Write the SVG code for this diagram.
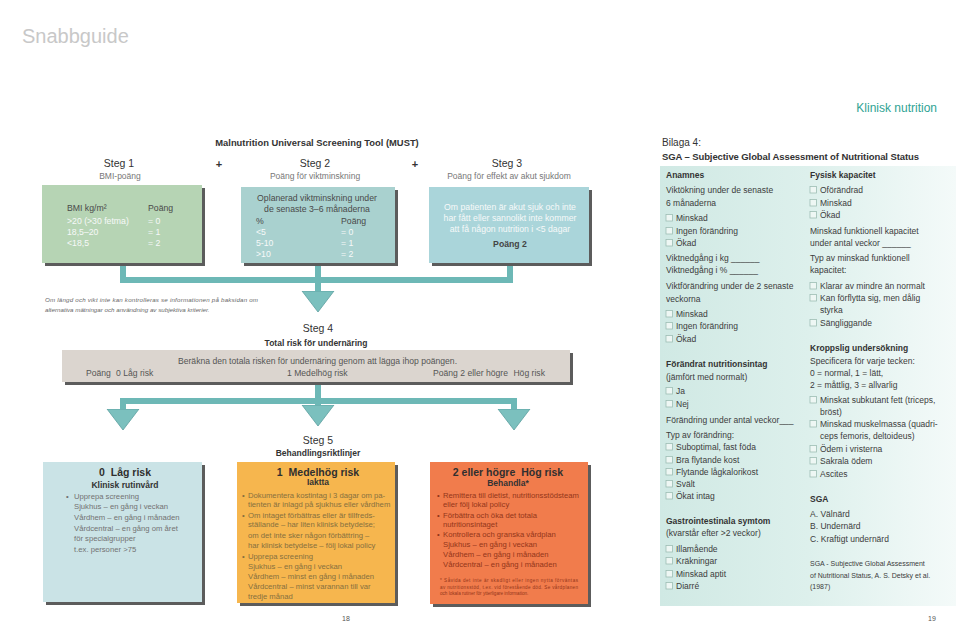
<svg xmlns="http://www.w3.org/2000/svg" width="960" height="623" viewBox="0 0 960 623">
<defs>
<linearGradient id="panel" x1="0" y1="0" x2="1" y2="0">
<stop offset="0" stop-color="#d0e9e4"/>
<stop offset="0.5" stop-color="#ddf0ec"/>
<stop offset="1" stop-color="#f4faf9"/>
</linearGradient>
<marker id="tri" markerUnits="userSpaceOnUse" markerWidth="22" markerHeight="34" refX="0" refY="17" orient="auto" viewBox="0 0 22 34">
<path d="M0,1 L21,17 L0,33 Z" fill="#7bc0be" stroke="#5c9e9e" stroke-width="0.8"/>
</marker>
</defs>
<style>
text{font-family:"Liberation Sans",Arial,sans-serif}
.m{font-size:8.6px;fill:#555}
.mb{font-size:8.7px;font-weight:bold;fill:#444}
.step{font-size:10.5px;fill:#333;text-anchor:middle}
.sub{font-size:8.5px;fill:#777;text-anchor:middle}
.subb{font-size:8.5px;font-weight:bold;fill:#333;text-anchor:middle}
.w{font-size:8.7px;fill:#f7f9f9}
.d{font-size:8.7px;fill:#4a4a4a}
.c{text-anchor:middle}
.shadow{fill:#5c5c5c}
.b5{font-size:7.7px}
.t5{font-size:10.5px;font-weight:bold;fill:#2f2f2f;text-anchor:middle}
.s5{font-size:8.5px;font-weight:bold;fill:#333;text-anchor:middle}
.low{fill:#727272}
.med{fill:#86703f}
.high{fill:#93361a}
.t{font-size:8.5px;fill:#3c3c3c}
.h{font-size:8.5px;font-weight:bold;fill:#333}
.cb{fill:#eef7f4;stroke:#9dbdb4;stroke-width:0.8}
.conn{fill:none;stroke:#6db8b6;stroke-width:6}
</style>
<rect width="960" height="623" fill="#fff"/>

<g id="header">
<text x="22" y="43" font-size="20" fill="#c8c8c8">Snabbguide</text>
<text x="937" y="111.5" font-size="12" fill="#2fa394" text-anchor="end">Klinisk nutrition</text>
</g>

<g id="must-title">
<text x="317" y="146" font-size="9.4" font-weight="bold" fill="#333" text-anchor="middle">Malnutrition Universal Screening Tool (MUST)</text>
<text x="219" y="168" font-size="11" font-weight="bold" fill="#333" text-anchor="middle">+</text>
<text x="415" y="168" font-size="11" font-weight="bold" fill="#333" text-anchor="middle">+</text>
</g>

<g id="connectors">
<path class="conn" d="M123,263 V280 H510 V263"/>
<path class="conn" d="M318,263 V291" marker-end="url(#tri)"/>
<path class="conn" d="M318,383 V405" marker-end="url(#tri)"/>
<path class="conn" d="M120,401 H517"/>
<path class="conn" d="M123,398 V409" marker-end="url(#tri)"/>
<path class="conn" d="M514,398 V409" marker-end="url(#tri)"/>
</g>

<g id="step1">
<text class="step" x="119" y="167">Steg 1</text>
<text class="sub" x="120" y="178.5">BMI-poäng</text>
<rect class="shadow" x="45" y="188" width="160" height="78"/>
<rect x="42" y="185" width="160" height="78" fill="#b6d4b4"/>
<text class="d" x="67" y="211">BMI kg/m²</text>
<text class="d" x="148" y="211">Poäng</text>
<text class="w" x="67" y="224">&gt;20 (&gt;30 fetma)</text>
<text class="w" x="148" y="224">= 0</text>
<text class="w" x="67" y="235">18,5–20</text>
<text class="w" x="148" y="235">= 1</text>
<text class="w" x="67" y="246">&lt;18,5</text>
<text class="w" x="148" y="246">= 2</text>
</g>

<g id="step2">
<text class="step" x="315" y="167">Steg 2</text>
<text class="sub" x="315" y="178.5">Poäng för viktminskning</text>
<rect class="shadow" x="244" y="190" width="154" height="76"/>
<rect x="241" y="187" width="154" height="76" fill="#a9d1cf"/>
<text class="d c" x="317" y="201">Oplanerad viktminskning under</text>
<text class="d c" x="317" y="212">de senaste 3–6 månaderna</text>
<text class="d" x="256" y="224">%</text>
<text class="d" x="341" y="224">Poäng</text>
<text class="w" x="256" y="235">&lt;5</text>
<text class="w" x="341" y="235">= 0</text>
<text class="w" x="256" y="246">5-10</text>
<text class="w" x="341" y="246">= 1</text>
<text class="w" x="256" y="257">&gt;10</text>
<text class="w" x="341" y="257">= 2</text>
</g>

<g id="step3">
<text class="step" x="507" y="167">Steg 3</text>
<text class="sub" x="509" y="178.5">Poäng för effekt av akut sjukdom</text>
<rect class="shadow" x="432" y="190" width="160" height="76"/>
<rect x="429" y="187" width="160" height="76" fill="#aad5da"/>
<text class="w c" x="510" y="210">Om patienten är akut sjuk och inte</text>
<text class="w c" x="510" y="221">har fått eller sannolikt inte kommer</text>
<text class="w c" x="510" y="232">att få någon nutrition i &lt;5 dagar</text>
<text class="mb c" x="510" y="247">Poäng 2</text>
</g>

<g id="note">
<text x="45" y="302" font-size="6.2" font-style="italic" fill="#666" textLength="213">Om längd och vikt inte kan kontrolleras se informationen på baksidan om</text>
<text x="45" y="311.5" font-size="6.2" font-style="italic" fill="#666">alternativa mätningar och användning av subjektiva kriterier.</text>
</g>

<g id="step4">
<text class="step" x="318" y="332">Steg 4</text>
<text class="subb" x="316" y="345.5">Total risk för undernäring</text>
<rect class="shadow" x="65" y="353" width="508" height="32"/>
<rect x="62" y="350" width="508" height="32" fill="#dbd5cf"/>
<text class="m" x="178" y="364" fill="#666">Beräkna den totala risken för undernäring genom att lägga ihop poängen.</text>
<text class="m" x="86" y="376">Poäng</text>
<text class="m" x="116" y="376">0 Låg risk</text>
<text class="m" x="287" y="376">1 Medelhög risk</text>
<text class="m" x="433" y="376">Poäng 2 eller högre <tspan dx="3">Hög risk</tspan></text>
</g>

<g id="step5-title">
<text class="step" x="318" y="444">Steg 5</text>
<text class="subb" x="318" y="455.5">Behandlingsriktlinjer</text>
</g>

<g id="step5-low">
<rect class="shadow" x="46" y="465" width="159" height="140"/>
<rect x="43" y="462" width="159" height="140" fill="#cae3e6"/>
<text class="t5" x="125" y="476">0 <tspan dx="3">Låg risk</tspan></text>
<text class="s5" x="125" y="487.5">Klinisk rutinvård</text>
<g class="b5 low">
<text x="66" y="498.5">•</text>
<text x="74" y="498.5">Upprepa screening</text>
<text x="74" y="509">Sjukhus – en gång i veckan</text>
<text x="74" y="519.5">Vårdhem – en gång i månaden</text>
<text x="74" y="530.5">Vårdcentral – en gång om året</text>
<text x="74" y="541">för specialgrupper</text>
<text x="74" y="551.5">t.ex. personer &gt;75</text>
</g>
</g>

<g id="step5-medium">
<rect class="shadow" x="240" y="465" width="158" height="141"/>
<rect x="237" y="462" width="158" height="141" fill="#f6b64e"/>
<text class="t5" x="318" y="475.5">1 <tspan dx="3">Medelhög risk</tspan></text>
<text class="s5" x="318" y="485">Iaktta</text>
<g class="b5 med">
<text x="242" y="497.5">•</text>
<text x="248" y="497.5">Dokumentera kostintag i 3 dagar om pa-</text>
<text x="248" y="507">tienten är inlagd på sjukhus eller vårdhem</text>
<text x="242" y="517.5">•</text>
<text x="248" y="517.5">Om intaget förbättras eller är tillfreds-</text>
<text x="248" y="527">ställande – har liten klinisk betydelse;</text>
<text x="248" y="537.5">om det inte sker någon förbättring –</text>
<text x="248" y="548">har klinisk betydelse – följ lokal policy</text>
<text x="242" y="559">•</text>
<text x="248" y="559">Upprepa screening</text>
<text x="248" y="568.5">Sjukhus – en gång i veckan</text>
<text x="248" y="578.5">Vårdhem – minst en gång i månaden</text>
<text x="248" y="588.5">Vårdcentral – minst varannan till var</text>
<text x="248" y="598.5">tredje månad</text>
</g>
</g>

<g id="step5-high">
<rect class="shadow" x="433" y="465" width="158" height="142"/>
<rect x="430" y="462" width="158" height="142" fill="#f17c4c"/>
<text class="t5" x="508" y="476">2 eller högre <tspan dx="3">Hög risk</tspan></text>
<text class="s5" x="508" y="485.5">Behandla*</text>
<g class="b5 high">
<text x="437" y="497.5">•</text>
<text x="443" y="497.5">Remittera till dietist, nutritionsstödsteam</text>
<text x="443" y="507">eller följ lokal policy</text>
<text x="437" y="517.5">•</text>
<text x="443" y="517.5">Förbättra och öka det totala</text>
<text x="443" y="527">nutritionsintaget</text>
<text x="437" y="537">•</text>
<text x="443" y="537">Kontrollera och granska vårdplan</text>
<text x="443" y="547">Sjukhus – en gång i veckan</text>
<text x="443" y="557">Vårdhem – en gång i månaden</text>
<text x="443" y="567">Vårdcentral – en gång i månaden</text>
</g>
<g font-size="4.6" fill="#93361a">
<text x="440" y="582" textLength="138">* Såvida det inte är skadligt eller ingen nytta förväntas</text>
<text x="440" y="588.5" textLength="138">av nutritionsstöd, t.ex. vid förestående död. Se vårdplanen</text>
<text x="440" y="595">och lokala rutiner för ytterligare information.</text>
</g>
</g>

<g id="page-numbers" font-size="7" fill="#555" text-anchor="middle">
<text x="346" y="621">18</text>
<text x="932" y="621">19</text>
</g>

<g id="sga-title">
<text x="662" y="146" font-size="10" fill="#333">Bilaga 4:</text>
<text x="662" y="160" font-size="9.5" font-weight="bold" fill="#333" textLength="257">SGA – Subjective Global Assessment of Nutritional Status</text>
</g>

<rect id="sga-panel" x="660" y="166" width="296" height="440" fill="url(#panel)"/>

<g id="sga-left">
<text class="h" x="666" y="178">Anamnes</text>
<text class="t" x="666" y="193">Viktökning under de senaste</text>
<text class="t" x="666" y="206">6 månaderna</text>
<rect class="cb" x="666" y="214.5" width="6.5" height="6.5"/><text class="t" x="676" y="221">Minskad</text>
<rect class="cb" x="666" y="227.5" width="6.5" height="6.5"/><text class="t" x="676" y="234">Ingen förändring</text>
<rect class="cb" x="666" y="239.5" width="6.5" height="6.5"/><text class="t" x="676" y="246">Ökad</text>
<text class="t" x="666" y="261">Viktnedgång i kg ______</text>
<text class="t" x="666" y="273">Viktnedgång i % ______</text>
<text class="t" x="666" y="289">Viktförändring under de 2 senaste</text>
<text class="t" x="666" y="302">veckorna</text>
<rect class="cb" x="666" y="310.5" width="6.5" height="6.5"/><text class="t" x="676" y="317">Minskad</text>
<rect class="cb" x="666" y="322.5" width="6.5" height="6.5"/><text class="t" x="676" y="329">Ingen förändring</text>
<rect class="cb" x="666" y="335.5" width="6.5" height="6.5"/><text class="t" x="676" y="342">Ökad</text>
<text class="h" x="666" y="367">Förändrat nutritionsintag</text>
<text class="t" x="666" y="380">(jämfört med normalt)</text>
<rect class="cb" x="666" y="387.5" width="6.5" height="6.5"/><text class="t" x="676" y="394">Ja</text>
<rect class="cb" x="666" y="400.5" width="6.5" height="6.5"/><text class="t" x="676" y="407">Nej</text>
<text class="t" x="666" y="423">Förändring under antal veckor___</text>
<text class="t" x="666" y="438">Typ av förändring:</text>
<rect class="cb" x="666" y="443.5" width="6.5" height="6.5"/><text class="t" x="676" y="450">Suboptimal, fast föda</text>
<rect class="cb" x="666" y="456.5" width="6.5" height="6.5"/><text class="t" x="676" y="463">Bra flytande kost</text>
<rect class="cb" x="666" y="468.5" width="6.5" height="6.5"/><text class="t" x="676" y="475">Flytande lågkalorikost</text>
<rect class="cb" x="666" y="480.5" width="6.5" height="6.5"/><text class="t" x="676" y="487">Svält</text>
<rect class="cb" x="666" y="492.5" width="6.5" height="6.5"/><text class="t" x="676" y="499">Ökat intag</text>
<text class="h" x="666" y="524">Gastrointestinala symtom</text>
<text class="t" x="666" y="536">(kvarstår efter &gt;2 veckor)</text>
<rect class="cb" x="666" y="545.5" width="6.5" height="6.5"/><text class="t" x="676" y="552">Illamående</text>
<rect class="cb" x="666" y="557.5" width="6.5" height="6.5"/><text class="t" x="676" y="564">Kräkningar</text>
<rect class="cb" x="666" y="570.5" width="6.5" height="6.5"/><text class="t" x="676" y="577">Minskad aptit</text>
<rect class="cb" x="666" y="582.5" width="6.5" height="6.5"/><text class="t" x="676" y="589">Diarré</text>
</g>

<g id="sga-right">
<text class="h" x="810" y="178">Fysisk kapacitet</text>
<rect class="cb" x="810" y="186.5" width="6.5" height="6.5"/><text class="t" x="820" y="193">Oförändrad</text>
<rect class="cb" x="810" y="199.5" width="6.5" height="6.5"/><text class="t" x="820" y="206">Minskad</text>
<rect class="cb" x="810" y="211.5" width="6.5" height="6.5"/><text class="t" x="820" y="218">Ökad</text>
<text class="t" x="810" y="234">Minskad funktionell kapacitet</text>
<text class="t" x="810" y="246">under antal veckor ______</text>
<text class="t" x="810" y="261">Typ av minskad funktionell</text>
<text class="t" x="810" y="273">kapacitet:</text>
<rect class="cb" x="810" y="282.5" width="6.5" height="6.5"/><text class="t" x="820" y="289">Klarar av mindre än normalt</text>
<rect class="cb" x="810" y="294.5" width="6.5" height="6.5"/><text class="t" x="820" y="301">Kan förflytta sig, men dålig</text>
<text class="t" x="820" y="313">styrka</text>
<rect class="cb" x="810" y="319.5" width="6.5" height="6.5"/><text class="t" x="820" y="326">Sängliggande</text>
<text class="h" x="810" y="351">Kroppslig undersökning</text>
<text class="t" x="810" y="364">Specificera för varje tecken:</text>
<text class="t" x="810" y="376">0 = normal, 1 = lätt,</text>
<text class="t" x="810" y="388">2 = måttlig, 3 = allvarlig</text>
<rect class="cb" x="810" y="396.5" width="6.5" height="6.5"/><text class="t" x="820" y="403">Minskat subkutant fett (triceps,</text>
<text class="t" x="820" y="415">bröst)</text>
<rect class="cb" x="810" y="420.5" width="6.5" height="6.5"/><text class="t" x="820" y="427">Minskad muskelmassa (quadri-</text>
<text class="t" x="820" y="439">ceps femoris, deltoideus)</text>
<rect class="cb" x="810" y="445.5" width="6.5" height="6.5"/><text class="t" x="820" y="452">Ödem i vristerna</text>
<rect class="cb" x="810" y="457.5" width="6.5" height="6.5"/><text class="t" x="820" y="464">Sakrala ödem</text>
<rect class="cb" x="810" y="470.5" width="6.5" height="6.5"/><text class="t" x="820" y="477">Ascites</text>
<text class="h" x="810" y="502">SGA</text>
<text class="t" x="810" y="517">A. Välnärd</text>
<text class="t" x="810" y="529">B. Undernärd</text>
<text class="t" x="810" y="542">C. Kraftigt undernärd</text>
<text x="810" y="566" font-size="7" fill="#3c3c3c">SGA - Subjective Global Assessment</text>
<text x="810" y="578" font-size="7" fill="#3c3c3c">of Nutritional Status, A. S. Detsky et al.</text>
<text x="810" y="589" font-size="7" fill="#3c3c3c">(1987)</text>
</g>
</svg>
